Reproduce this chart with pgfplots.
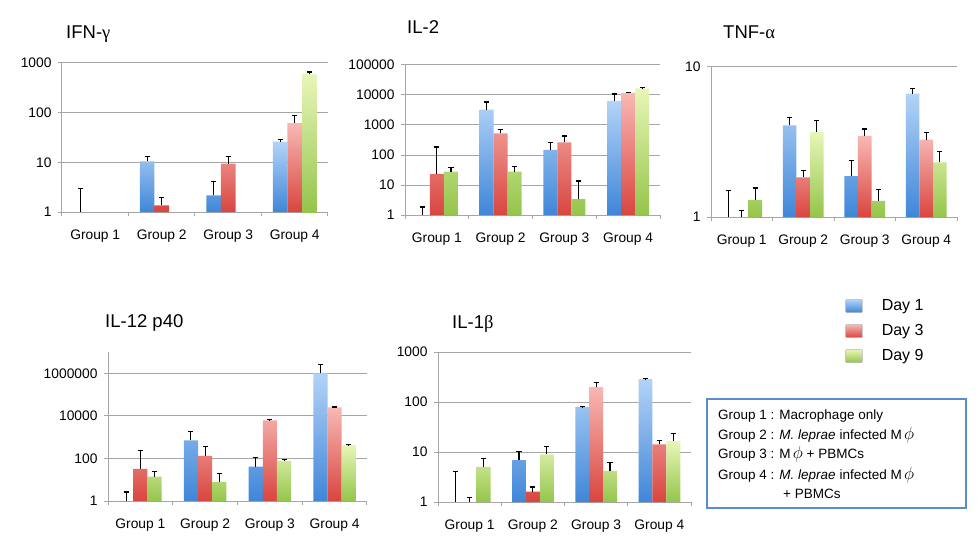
\documentclass[border=0pt]{standalone}
\usepackage{fontspec}
\setmainfont{Liberation Sans}
\newfontfamily\grk{Liberation Serif}
\usepackage{pgfplots}
\pgfplotsset{compat=1.18}
\definecolor{bt}{HTML}{B3D3F8}
\definecolor{bb}{HTML}{3F86D8}
\definecolor{rt}{HTML}{F8B8B4}
\definecolor{rb}{HTML}{D9453F}
\definecolor{gt}{HTML}{E8F6B8}
\definecolor{gb}{HTML}{94C54B}
\definecolor{gridc}{HTML}{A6A6A6}
\definecolor{boxc}{HTML}{5B8CD0}
\pgfplotsset{every axis/.append style={
    scale only axis, ymode=log, bar width=0.22,
    xmin=-0.5, xmax=3.5, ymin=1,
    enlargelimits=false,
    axis x line*=bottom, axis y line*=left,
    axis line style={draw=gridc, line width=1pt},
    xtick={0,1,2,3}, xticklabels={Group 1,Group 2,Group 3,Group 4},
    minor xtick={-0.5,0.5,1.5,2.5,3.5},
    tick align=outside,
    major tick length=4pt, minor tick length=4pt,
    every major x tick/.style={draw=none},
    every minor tick/.style={draw=gridc, line width=1pt},
    every major y tick/.style={draw=gridc, line width=1pt},
    ymajorgrids, major grid style={draw=gridc, line width=1pt},
    tick label style={font=\fontsize{13.8}{14}\selectfont},
    xticklabel style={yshift=-10pt},
    yticklabel style={xshift=-3pt},
  }}
\pgfplotsset{
  d1/.style={ybar, draw=none, top color=bt, bottom color=bb, bar shift=-0.22},
  d3/.style={ybar, draw=none, top color=rt, bottom color=rb, bar shift=0},
  d9/.style={ybar, draw=none, top color=gt, bottom color=gb, bar shift=0.22},
  eb/.style={draw=none, mark=none, forget plot,
     error bars/y dir=plus, error bars/y explicit,
     error bars/error bar style={draw=black, line width=1.2pt},
     error bars/error mark options={rotate=90, draw=black, line width=1.2pt, mark size=2.6pt}},
}
\begin{document}
\begin{tikzpicture}
\path[use as bounding box] (0pt,0pt) rectangle (980pt,558pt);

% IFN-gamma
\begin{axis}[at={(62pt,346pt)}, anchor=south west, width=266pt, height=149pt,
  ymax=1000, ytick={1,10,100,1000}, yticklabels={1,10,100,1000}, yminorticks=false]
\addplot[d1] coordinates {(1,10.5) (2,2.17) (3,26.2)};
\addplot[d3] coordinates {(1,1.36) (2,9.44) (3,61.5)};
\addplot[d9] coordinates {(3,590)};
% error bars (x at bar centres: group -0.22 / 0 / +0.22)
\addplot[eb] coordinates {(-0.22,1) +- (0,1.96) (0.78,10.5) +- (0,2.4) (1.78,2.17) +- (0,1.93) (2.78,26.2) +- (0,2.6)};
\addplot[eb] coordinates {(1,1.36) +- (0,0.62) (2,9.44) +- (0,3.86) (3,61.5) +- (0,26.3)};
\addplot[eb] coordinates {(3.22,590) +- (0,67)};
\end{axis}

% IL-2
\begin{axis}[at={(405pt,343pt)}, anchor=south west, width=255pt, height=150pt,
  ymax=100000, ytick={1,10,100,1000,10000,100000}, yticklabels={1,10,100,1000,10000,100000}, yminorticks=false]
\addplot[d1] coordinates {(1,3245) (2,147) (3,6310)};
\addplot[d3] coordinates {(0,23.3) (1,527) (2,264) (3,11660)};
\addplot[d9] coordinates {(0,27.8) (1,27.8) (2,3.41) (3,16680)};
\addplot[eb] coordinates {(-0.22,1) +- (0,0.85) (0.78,3245) +- (0,2600) (1.78,147) +- (0,111) (2.78,6310) +- (0,4490)};
\addplot[eb] coordinates {(0,23.3) +- (0,162) (1,527) +- (0,172) (2,264) +- (0,166) (3,11660) +- (0,610)};
\addplot[eb] coordinates {(0.22,27.8) +- (0,11) (1.22,27.8) +- (0,13) (2.22,3.41) +- (0,10.2) (3.22,16680) +- (0,870)};
\end{axis}

% TNF-alpha
\begin{axis}[at={(711pt,341pt)}, anchor=south west, width=246pt, height=150pt,
  ymax=10, ytick={1,10}, yticklabels={1,10}, yminorticks=false]
\addplot[d1] coordinates {(1,4.08) (2,1.87) (3,6.65)};
\addplot[d3] coordinates {(1,1.84) (2,3.47) (3,3.28)};
\addplot[d9] coordinates {(0,1.30) (1,3.68) (2,1.28) (3,2.31)};
\addplot[eb] coordinates {(-0.22,1) +- (0,0.50) (0.78,4.08) +- (0,0.53) (1.78,1.87) +- (0,0.51) (2.78,6.65) +- (0,0.57)};
\addplot[eb] coordinates {(0,1) +- (0,0.107) (1,1.84) +- (0,0.20) (2,3.47) +- (0,0.39) (3,3.28) +- (0,0.37)};
\addplot[eb] coordinates {(0.22,1.30) +- (0,0.26) (1.22,3.68) +- (0,0.72) (2.22,1.28) +- (0,0.24) (3.22,2.31) +- (0,0.43)};
\end{axis}

% IL-12 p40
\begin{axis}[at={(108pt,57pt)}, anchor=south west, width=259pt, height=149pt,
  ymax=10000000, ytick={1,100,10000,1000000}, yticklabels={1,100,10000,1000000}, yminorticks=false]
\addplot[d1] coordinates {(1,713) (2,41) (3,1000000)};
\addplot[d3] coordinates {(0,32) (1,131) (2,6210) (3,25350)};
\addplot[d9] coordinates {(0,13.9) (1,7.8) (2,76) (3,430)};
\addplot[eb] coordinates {(-0.22,1) +- (0,1.65) (0.78,713) +- (0,1177) (1.78,41) +- (0,68) (2.78,1000000) +- (0,1570000)};
\addplot[eb] coordinates {(0,32) +- (0,209) (1,131) +- (0,228) (2,6210) +- (0,460) (3,25350) +- (0,950)};
\addplot[eb] coordinates {(0.22,13.9) +- (0,10) (1.22,7.8) +- (0,11.5) (2.22,76) +- (0,11.8) (3.22,430) +- (0,16)};
\end{axis}

% IL-1beta
\begin{axis}[at={(438pt,56pt)}, anchor=south west, width=253pt, height=150pt,
  ymax=1000, ytick={1,10,100,1000}, yticklabels={1,10,100,1000}, yminorticks=false,
  legend cell align=left,
  legend style={at={(axis description cs:1.609,1.353)}, anchor=north west,
    draw=none, fill=none, inner sep=0pt, row sep=11.5pt, column sep=19pt,
    nodes={inner sep=0pt, font=\fontsize{16}{16}\selectfont}},
  legend image code/.code={\draw[#1, draw=black!30, line width=0.5pt, rounded corners=1pt] (0pt,-6.5pt) rectangle (17pt,6.5pt);}]
\addplot[d1] coordinates {(1,6.87) (2,78.6) (3,287)};
\addplot[d3] coordinates {(1,1.61) (2,198) (3,14.2)};
\addplot[d9] coordinates {(0,5.05) (1,8.93) (2,4.2) (3,16.6)};
\legend{Day 1, Day 3, Day 9}
\addplot[eb] coordinates {(-0.22,1) +- (0,3.13) (0.78,6.87) +- (0,3.2) (1.78,78.6) +- (0,2.4) (2.78,287) +- (0,5)};
\addplot[eb] coordinates {(0,1) +- (0,0.24) (1,1.61) +- (0,0.39) (2,198) +- (0,44) (3,14.2) +- (0,2.9)};
\addplot[eb] coordinates {(0.22,5.05) +- (0,2.38) (1.22,8.93) +- (0,3.8) (2.22,4.2) +- (0,1.97) (3.22,16.6) +- (0,7)};
\end{axis}

% titles
\begin{scope}[every node/.style={anchor=base west, inner sep=0pt, font=\fontsize{18.5}{20}\selectfont}]
\node at (66pt,519pt) {IFN-{\grk γ}};
\node at (407pt,524pt) {IL-2};
\node at (723pt,519pt) {TNF-{\grk α}};
\node at (105pt,231pt) {IL-12 p40};
\node at (452pt,230pt) {IL-1{\grk β}};
\end{scope}

% group description box
\draw[draw=boxc, line width=1.3pt] (707pt,50pt) rectangle (966pt,159pt);
\begin{scope}[every node/.style={anchor=base west, inner sep=0pt, font=\fontsize{13.5}{14}\selectfont}]
\node at (718pt,139pt) {Group 1 : Macrophage only};
\node at (718pt,119pt) {Group 2 : \textit{M. leprae} infected M\,{\fontsize{17}{17}\selectfont$\phi$}};
\node at (718pt,100pt) {Group 3 : M\,{\fontsize{17}{17}\selectfont$\phi$} + PBMCs};
\node at (718pt,79pt) {Group 4 : \textit{M. leprae} infected M\,{\fontsize{17}{17}\selectfont$\phi$}};
\node at (783pt,60pt) {+ PBMCs};
\end{scope}
\end{tikzpicture}
\end{document}
